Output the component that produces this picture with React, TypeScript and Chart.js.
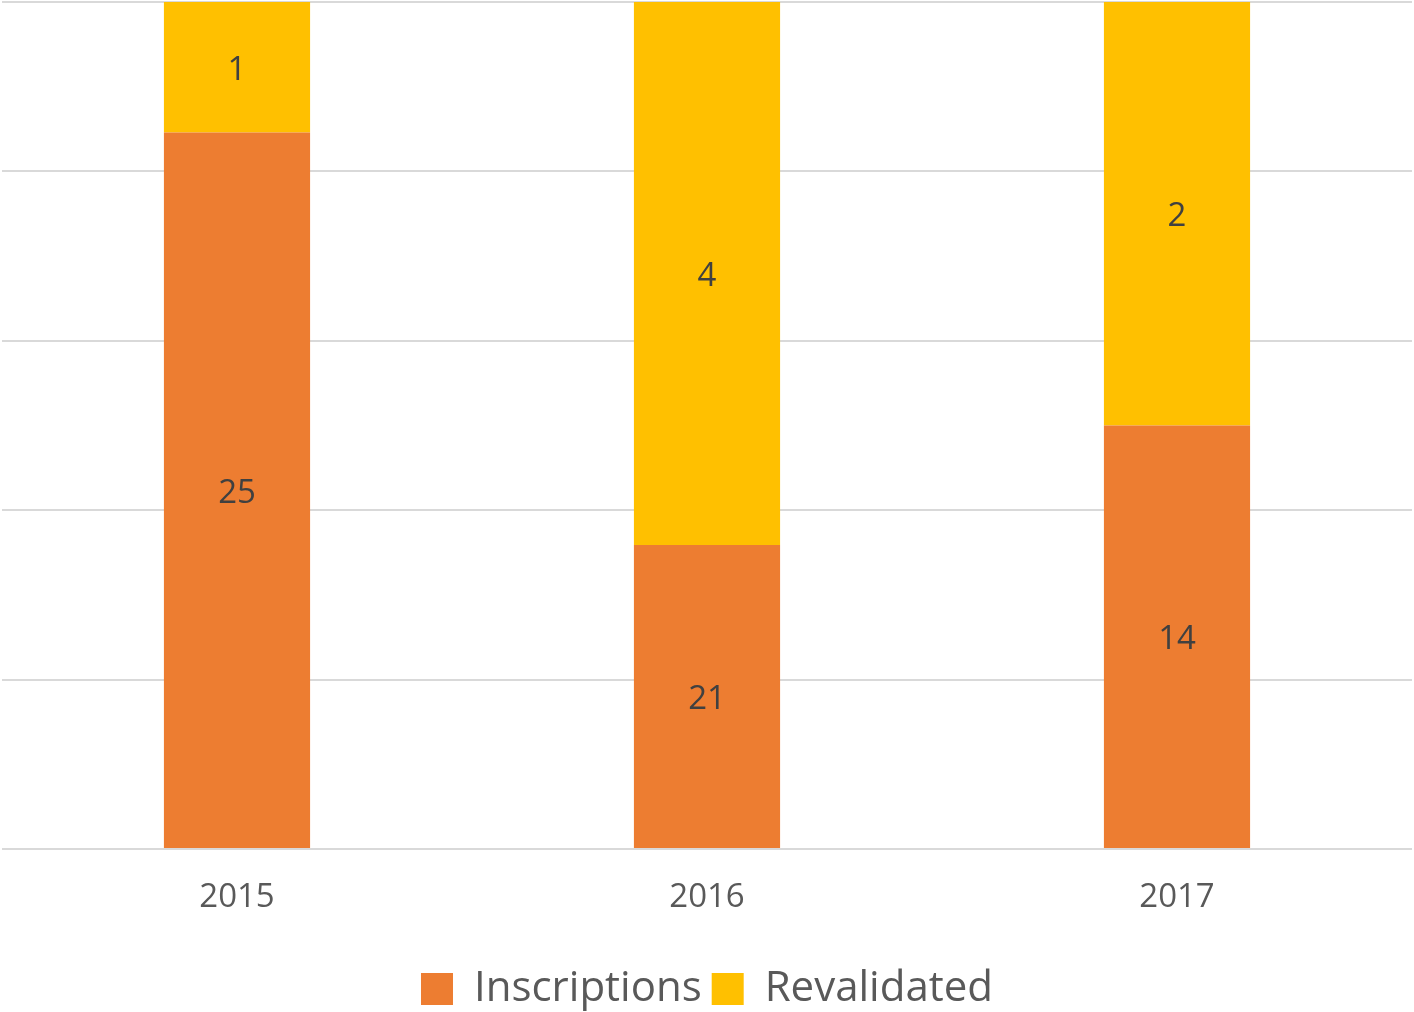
import React, { useEffect, useRef } from "react";
import { Chart, registerables } from "chart.js";

Chart.register(...registerables);

const categories = ["2015", "2016", "2017"];
// Plotted bar heights (share of axis, %)
const inscriptionsShare = [84.6, 35.9, 50.0];
const revalidatedShare = [15.4, 64.1, 50.0];
// Data labels shown on the segments
const inscriptionsLabels = ["25", "21", "14"];
const revalidatedLabels = ["1", "4", "2"];
const yTicks = [0, 20, 40, 60, 80, 100];

const FONT = "'Open Sans', 'Liberation Sans', sans-serif";
const TEXT = "#595959";

const segmentLabels = {
  id: "segmentLabels",
  afterDatasetsDraw(chart: any) {
    const ctx = chart.ctx;
    const labelSets = [inscriptionsLabels, revalidatedLabels];
    ctx.save();
    ctx.font = `33px ${FONT}`;
    ctx.fillStyle = "#404040";
    ctx.textAlign = "center";
    ctx.textBaseline = "middle";
    chart.data.datasets.forEach((_: any, di: number) => {
      const meta = chart.getDatasetMeta(di);
      meta.data.forEach((el: any, i: number) => {
        const y = (el.y + el.base) / 2 + 3;
        ctx.fillText(labelSets[di][i], el.x, y);
      });
    });
    ctx.restore();
  },
};

export default function App() {
  const ref = useRef<HTMLCanvasElement>(null);
  useEffect(() => {
    if (!ref.current) return;
    const chart = new Chart(ref.current, {
      type: "bar",
      data: {
        labels: categories,
        datasets: [
          {
            label: "Inscriptions",
            data: inscriptionsShare,
            backgroundColor: "#ED7D31",
            categoryPercentage: 1,
            barPercentage: 0.311,
          },
          {
            label: "Revalidated",
            data: revalidatedShare,
            backgroundColor: "#FFC000",
            categoryPercentage: 1,
            barPercentage: 0.311,
          },
        ],
      },
      options: {
        animation: false,
        responsive: false,
        layout: { padding: { left: 2, right: 2, top: 2, bottom: -8 } },
        scales: {
          x: {
            stacked: true,
            grid: { display: false },
            border: { display: false },
            ticks: {
              color: TEXT,
              font: { family: FONT, size: 33 },
              padding: 21,
            },
            afterFit: (axis: any) => {
              axis.height = 109;
            },
          },
          y: {
            stacked: true,
            min: yTicks[0],
            max: yTicks[yTicks.length - 1],
            afterBuildTicks: (axis: any) => {
              axis.ticks = yTicks.map((v) => ({ value: v }));
            },
            ticks: { display: false },
            border: { display: false },
            grid: { color: "#d9d9d9", lineWidth: 2, drawTicks: false },
          },
        },
        plugins: {
          legend: {
            position: "bottom",
            labels: {
              color: TEXT,
              font: { family: FONT, size: 42 },
              boxWidth: 32,
              boxHeight: 32,
              padding: 10,
            },
          },
          tooltip: { enabled: false },
        },
      },
      plugins: [segmentLabels],
    });
    return () => chart.destroy();
  }, []);
  return (
    <div style={{ position: "absolute", left: 0, top: 0, width: 1414, height: 1012, background: "#fff" }}>
      <canvas ref={ref} width={1414} height={1012} style={{ display: "block" }} />
    </div>
  );
}
